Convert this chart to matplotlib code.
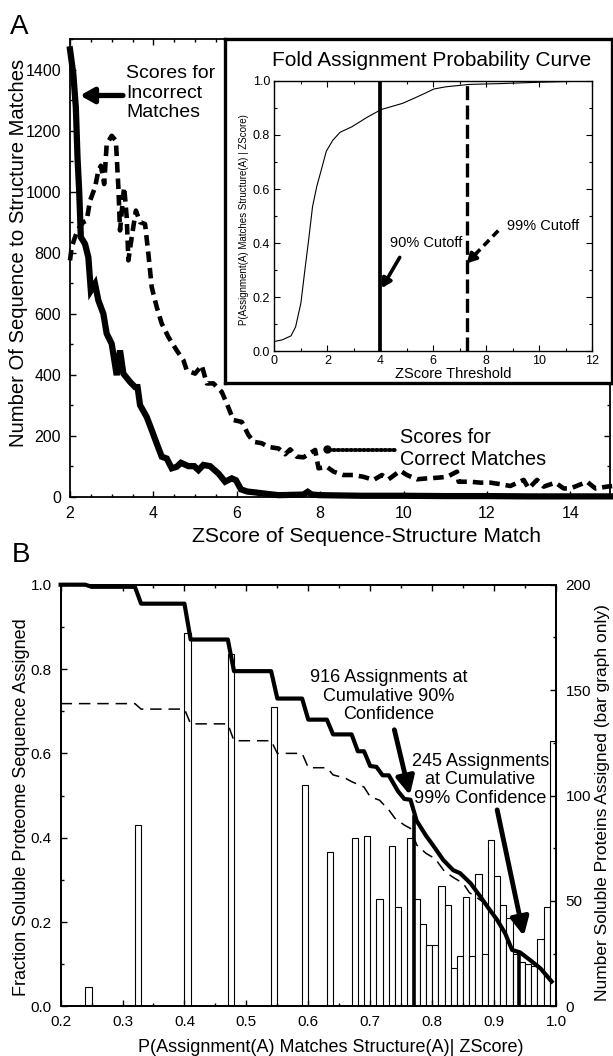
import matplotlib
matplotlib.use('Agg')
import matplotlib.pyplot as plt
from matplotlib.ticker import MultipleLocator
import numpy as np

plt.rcParams['font.family'] = ['Liberation Sans', 'DejaVu Sans']

# ---------------- data ----------------
incorrect_z = [2.0, 2.08, 2.14, 2.18, 2.22, 2.26, 2.36, 2.44, 2.50, 2.60, 2.68, 2.80, 2.88, 3.0, 3.12,
               3.20, 3.28, 3.44, 3.56, 3.62, 3.68, 3.84, 3.96, 4.08, 4.20, 4.32, 4.44, 4.56, 4.66, 4.84,
               4.98, 5.08, 5.20, 5.36, 5.56, 5.72, 5.88, 5.98, 6.1, 6.25, 6.5, 6.8, 7.0, 7.3, 7.6, 7.7,
               7.8, 8.0, 8.5, 9.0, 10.0, 11.0, 12.0, 13.0, 14.0, 15.0]
incorrect_n = [1466, 1385, 1276, 1112, 1003, 851, 829, 785, 676, 698, 644, 600, 535, 502, 399,
               480, 404, 377, 360, 360, 301, 262, 219, 175, 132, 126, 94, 99, 112, 101,
               101, 88, 105, 101, 77, 50, 61, 55, 25, 18, 14, 9, 6, 7, 8, 17,
               8, 6, 5, 4, 4, 3, 3, 2, 2, 2]

correct_z = [2.0, 2.04, 2.12, 2.20, 2.32, 2.40, 2.48, 2.60, 2.68, 2.74, 2.82, 2.88, 3.0, 3.10, 3.16,
             3.20, 3.28, 3.30, 3.36, 3.40, 3.48, 3.58, 3.68, 3.80, 3.88, 3.96, 4.08, 4.20, 4.36, 4.56,
             4.72, 4.80, 5.0, 5.16, 5.28, 5.44, 5.64, 5.76, 5.92, 6.12, 6.28, 6.40, 6.60, 6.76, 7.0,
             7.16, 7.28, 7.44, 7.6, 7.88, 7.96, 8.16, 8.32, 8.56, 8.80, 9.04, 9.28, 9.48, 9.64, 9.92,
             10.08, 10.32, 10.56, 10.80, 11.04, 11.28, 11.32, 11.6, 11.84, 12.08, 12.32, 12.56, 12.88,
             13.0, 13.2, 13.36, 13.64, 13.84, 14.0, 14.4, 14.6, 14.88, 15.0]
correct_n = [775, 818, 851, 878, 900, 905, 970, 1014, 1069, 1085, 1025, 1156, 1183, 1167, 1014,
             873, 993, 1014, 916, 775, 851, 938, 900, 894, 796, 687, 622, 568, 524, 480,
             448, 415, 404, 431, 372, 372, 344, 306, 252, 246, 203, 181, 176, 164, 159,
             140, 156, 132, 130, 154, 94, 99, 83, 72, 72, 66, 56, 72, 58, 86,
             72, 58, 61, 63, 66, 83, 50, 50, 47, 47, 42, 36, 56,
             28, 56, 34, 47, 28, 28, 50, 28, 34, 36]

inset_z = [0, 0.3, 0.63, 0.8, 1.0, 1.15, 1.29, 1.44, 1.6, 1.74, 1.96, 2.2, 2.48, 2.92, 3.51, 4.03,
           4.84, 5.28, 5.7, 6.02, 6.46, 7.35, 8.5, 10, 12]
inset_p = [0.036, 0.042, 0.057, 0.09, 0.178, 0.30, 0.41, 0.535, 0.61, 0.66, 0.74, 0.78, 0.81, 0.83,
           0.866, 0.894, 0.917, 0.936, 0.955, 0.97, 0.978, 0.987, 0.99, 0.995, 1.0]
cutoff90_z = 4.0
cutoff99_z = 7.26

bar_left = [0.24, 0.32, 0.40, 0.47, 0.54, 0.59, 0.63, 0.67, 0.69, 0.71, 0.73, 0.74, 0.76, 0.77,
            0.78, 0.79, 0.80, 0.81, 0.82, 0.83, 0.84, 0.85, 0.86, 0.87, 0.88, 0.89, 0.90, 0.91,
            0.92, 0.93, 0.94, 0.95, 0.96, 0.97, 0.98, 0.99]
bar_count = [9, 86, 177, 167, 142, 105, 73, 80, 81, 51, 76, 47, 80, 51,
             39, 29, 29, 57, 48, 18, 24, 52, 24, 63, 25, 79, 62, 48,
             42, 25, 21, 20, 19, 32, 47, 126]

frac_p = [0.20, 0.24, 0.25, 0.32, 0.33, 0.40, 0.41, 0.47, 0.48, 0.54, 0.55, 0.59, 0.60, 0.63, 0.64,
          0.67, 0.68, 0.69, 0.70, 0.71, 0.72, 0.73, 0.745, 0.755, 0.765, 0.775, 0.79, 0.80, 0.818,
          0.834, 0.845, 0.862, 0.878, 0.891, 0.905, 0.918, 0.929, 0.942, 0.958, 0.975, 0.993]
frac_all = [1.0, 1.0, 0.995, 0.995, 0.955, 0.955, 0.87, 0.87, 0.795, 0.795, 0.73, 0.73, 0.68, 0.68, 0.645,
            0.645, 0.605, 0.605, 0.57, 0.568, 0.548, 0.548, 0.51, 0.492, 0.49, 0.44, 0.405, 0.385, 0.347,
            0.323, 0.316, 0.292, 0.26, 0.233, 0.205, 0.173, 0.134, 0.128, 0.11, 0.09, 0.059]

dash_p = [0.20, 0.32, 0.33, 0.40, 0.41, 0.47, 0.48, 0.54, 0.55, 0.59, 0.60, 0.63, 0.64, 0.66, 0.67,
          0.69, 0.70, 0.715, 0.73, 0.74, 0.755, 0.765, 0.775, 0.79, 0.805, 0.82, 0.835, 0.85, 0.86,
          0.886, 0.90]
dash_f = [0.718, 0.718, 0.705, 0.705, 0.67, 0.67, 0.63, 0.63, 0.60, 0.60, 0.566, 0.566, 0.549, 0.541,
          0.533, 0.52, 0.497, 0.489, 0.466, 0.446, 0.43, 0.422, 0.383, 0.363, 0.35, 0.32, 0.305, 0.292,
          0.27, 0.244, 0.215]
vline90_p = 0.77
vline90_top = 0.45
vline99_p = 0.94
vline99_top = 0.127

# ---------------- layout helpers ----------------
W, H = 613, 1056
fig = plt.figure(figsize=(W / 100, H / 100), dpi=100)


def rect(l, t, r, b):
    return [l / W, 1 - b / H, (r - l) / W, (b - t) / H]


def fx(px):
    return px / W


def fy(py):
    return 1 - py / H


def style_ticks(ax, size, pad, length=4.5, mlength=2.5, width=1.0):
    ax.tick_params(which='both', direction='in', top=True, right=True, width=width)
    ax.tick_params(which='major', length=length, labelsize=size, pad=pad)
    ax.tick_params(which='minor', length=mlength)


# ---------------- panel A ----------------
axA = fig.add_axes(rect(70, 39, 610, 497))
axA.plot(correct_z, correct_n, color='k', lw=3.3, ls=(0, (2.3, 1.3)), clip_on=False, zorder=3)
axA.plot(incorrect_z, incorrect_n, color='k', lw=4.5, solid_joinstyle='miter', clip_on=False, zorder=4)
axA.set_xlim(2, 14.95)
axA.set_ylim(0, 1500)
axA.xaxis.set_major_locator(MultipleLocator(2))
axA.xaxis.set_minor_locator(MultipleLocator(0.5))
axA.yaxis.set_major_locator(MultipleLocator(200))
axA.yaxis.set_minor_locator(MultipleLocator(100))
style_ticks(axA, 11.5, 6.5)
for s in axA.spines.values():
    s.set_linewidth(1.3)

axA.annotate('', xy=(2.24, 1315), xytext=(3.27, 1315),
             arrowprops=dict(arrowstyle='-|>,head_length=0.5,head_width=0.28', lw=3.8, color='k',
                             shrinkA=0, shrinkB=0, mutation_scale=16))
axA.plot([8.2, 9.79], [154, 154], color='k', lw=2.8, ls=(0, (0.4, 0.7)),
         dash_capstyle='round', zorder=5)
axA.plot([8.17], [157], marker='o', ms=5, color='k', zorder=5)

fig.text(fx(126), fy(93), 'Scores for\nIncorrect\nMatches', fontsize=14, ha='left', va='center',
         linespacing=1.2)
fig.text(fx(399.5), fy(448.5), 'Scores for\nCorrect Matches', fontsize=14.3, ha='left', va='center',
         linespacing=1.2)
fig.text(fx(366.5), fy(537), 'ZScore of Sequence-Structure Match', fontsize=15.2, ha='center', va='center')
fig.text(fx(18.5), fy(253), 'Number Of Sequence to Structure Matches', fontsize=14.6, ha='center',
         va='center', rotation=90)
fig.text(fx(19.5), fy(26.5), 'A', fontsize=20, ha='center', va='center')

# inset frame
axF = fig.add_axes(rect(225, 39, 612, 383))
axF.set_zorder(5)
axF.set_xticks([])
axF.set_yticks([])
axF.set_facecolor('white')
for s in axF.spines.values():
    s.set_linewidth(2.4)

axI = fig.add_axes(rect(274.4, 80.9, 592.3, 351.2))
axI.set_zorder(6)
axI.plot(inset_z, inset_p, color='k', lw=0.8)
axI.plot([cutoff90_z, cutoff90_z], [0, 1], color='k', lw=2.7)
axI.plot([cutoff99_z, cutoff99_z], [0, 1], color='k', lw=2.4, ls=(0, (4.2, 1.6)))
axI.set_xlim(0, 12)
axI.set_ylim(0, 1)
axI.xaxis.set_major_locator(MultipleLocator(2))
axI.xaxis.set_minor_locator(MultipleLocator(1))
axI.yaxis.set_minor_locator(MultipleLocator(0.1))
axI.set_yticks(np.arange(0, 1.01, 0.2))
axI.set_yticklabels(['0.0', '0.2', '0.4', '0.6', '0.8', '1.0'])
style_ticks(axI, 9, 3, length=4, mlength=2.5, width=0.8)
for s in axI.spines.values():
    s.set_linewidth(1.0)
axI.annotate('', xy=(4.05, 0.233), xytext=(4.73, 0.347),
             arrowprops=dict(arrowstyle='-|>,head_length=0.45,head_width=0.25', lw=2.6, color='k',
                             shrinkA=0, shrinkB=0, mutation_scale=12))
axI.plot([8.45, 7.55], [0.446, 0.355], color='k', lw=2.6, ls=(0, (2.2, 1.4)))
axI.annotate('', xy=(7.26, 0.325), xytext=(7.6, 0.36),
             arrowprops=dict(arrowstyle='-|>,head_length=0.45,head_width=0.25', lw=2.6, color='k',
                             shrinkA=0, shrinkB=0, mutation_scale=12))
axI.text(4.37, 0.399, '90% Cutoff', fontsize=10.5, ha='left', va='center')
axI.text(8.77, 0.463, '99% Cutoff', fontsize=10.5, ha='left', va='center')

fig.text(fx(432), fy(61), 'Fold Assignment Probability Curve', fontsize=15, ha='center', va='center',
         zorder=10)
fig.text(fx(453), fy(373.6), 'ZScore Threshold', fontsize=10.5, ha='center', va='center', zorder=10)
fig.text(fx(244), fy(219.5), 'P(Assignment(A) Matches Structure(A) | ZScore)', fontsize=7,
         ha='center', va='center', rotation=90, zorder=10)

# ---------------- panel B ----------------
axB = fig.add_axes(rect(60.6, 584.7, 556, 1006.4))
axB2 = axB.twinx()
axB2.bar(bar_left, bar_count, width=0.01, align='edge', facecolor='white', edgecolor='k', lw=0.8)
axB2.set_ylim(0, 200)
axB2.yaxis.set_major_locator(MultipleLocator(50))
axB2.yaxis.set_minor_locator(MultipleLocator(25))
axB2.tick_params(which='both', direction='in', width=1.0)
axB2.tick_params(which='major', length=4.5, labelsize=11, pad=7)
axB2.tick_params(which='minor', length=2.5)

axB.set_zorder(axB2.get_zorder() + 1)
axB.patch.set_visible(False)
axB.plot(dash_p, dash_f, color='k', lw=1.1, ls=(0, (7.5, 4.5)))
axB.plot(frac_p, frac_all, color='k', lw=3.0, clip_on=False)
axB.plot([vline90_p, vline90_p], [0, vline90_top], color='k', lw=2.6)
axB.plot([vline99_p, vline99_p], [0, vline99_top], color='k', lw=2.6)
axB.set_xlim(0.2, 1.0)
axB.set_ylim(0, 1.0)
axB.xaxis.set_major_locator(MultipleLocator(0.1))
axB.xaxis.set_minor_locator(MultipleLocator(0.05))
axB.yaxis.set_major_locator(MultipleLocator(0.2))
axB.yaxis.set_minor_locator(MultipleLocator(0.1))
axB.tick_params(which='both', direction='in', top=True, right=False, width=1.0)
axB.tick_params(which='major', length=4.5, labelsize=11, pad=6.5)
axB.tick_params(which='minor', length=2.5)
for a in (axB, axB2):
    for s in a.spines.values():
        s.set_linewidth(1.3)

axB.annotate('', xy=(0.764, 0.501), xytext=(0.739, 0.656),
             arrowprops=dict(arrowstyle='-|>,head_length=0.6,head_width=0.3', lw=3.5, color='k',
                             shrinkA=0, shrinkB=0, mutation_scale=18))
axB.annotate('', xy=(0.948, 0.167), xytext=(0.905, 0.466),
             arrowprops=dict(arrowstyle='-|>,head_length=0.6,head_width=0.3', lw=3.5, color='k',
                             shrinkA=0, shrinkB=0, mutation_scale=18))
axB.text(0.7305, 0.736, '916 Assignments at\nCumulative 90%\nConfidence', fontsize=13,
         ha='center', va='center', multialignment='center', linespacing=1.1)
axB.text(0.8776, 0.537, '245 Assignments\nat Cumulative\n99% Confidence', fontsize=13,
         ha='center', va='center', multialignment='center', linespacing=1.1)

fig.text(fx(331), fy(1047), 'P(Assignment(A) Matches Structure(A)| ZScore)', fontsize=13,
         ha='center', va='center')
fig.text(fx(21.5), fy(806.8), 'Fraction Soluble Proteome Sequence Assigned', fontsize=13,
         ha='center', va='center', rotation=90)
fig.text(fx(602), fy(802.5), 'Number Soluble Proteins Assigned (bar graph only)', fontsize=12.5,
         ha='center', va='center', rotation=90)
fig.text(fx(21.5), fy(555), 'B', fontsize=20, ha='center', va='center')

fig.savefig('out.png', dpi=100)
